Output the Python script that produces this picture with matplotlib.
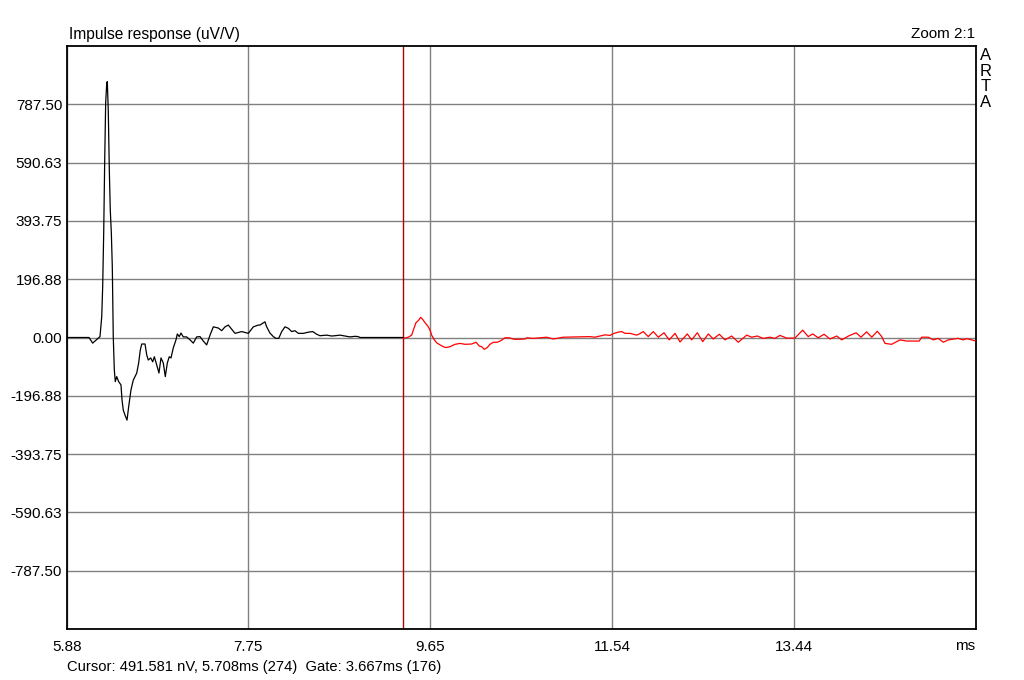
import matplotlib
matplotlib.use("Agg")
import matplotlib.pyplot as plt

plt.rcParams['font.family'] = ['Liberation Sans', 'DejaVu Sans']

# ---- data (time in ms, response in uV/V) ----
black_t = [5.880, 6.109, 6.147, 6.223, 6.241, 6.251, 6.262, 6.272, 6.282, 6.293, 6.299,
           6.309, 6.320, 6.330, 6.341, 6.351, 6.361, 6.372, 6.382, 6.397, 6.417, 6.441,
           6.452, 6.465, 6.483, 6.504, 6.521, 6.545, 6.569, 6.605, 6.625, 6.642, 6.657,
           6.691, 6.709, 6.725, 6.750, 6.771, 6.788, 6.813, 6.836, 6.857, 6.881, 6.902,
           6.923, 6.943, 6.961, 6.985, 7.013, 7.027, 7.047, 7.065, 7.089, 7.124, 7.159,
           7.193, 7.228, 7.263, 7.297, 7.332, 7.367, 7.401, 7.453, 7.488, 7.523, 7.557,
           7.592, 7.627, 7.696, 7.765, 7.817, 7.869, 7.886, 7.938, 7.956, 7.990, 8.025,
           8.053, 8.081, 8.112, 8.146, 8.181, 8.216, 8.250, 8.285, 8.337, 8.389, 8.434,
           8.476, 8.510, 8.580, 8.632, 8.666, 8.718, 8.770, 8.822, 8.874, 8.908, 8.926,
           9.376]
black_v = [0, 0, -19, 3, 70, 172, 363, 599, 792, 859, 864,
           767, 565, 430, 353, 238, 2, -110, -149, -132, -149, -160,
           -211, -245, -262, -279, -234, -177, -144, -120, -86, -42, -22,
           -22, -59, -76, -69, -82, -65, -93, -120, -69, -86, -132,
           -86, -65, -69, -35, -8, 12, 3, 15, 2, 2, -8,
           -19, 2, 3, -12, -25, 8, 36, 32, 23, 36, 42,
           28, 14, 20, 14, 36, 42, 42, 53, 36, 15, 3,
           -3, -3, 20, 36, 31, 20, 23, 14, 14, 18, 20,
           11, 6, 8, 5, 6, 8, 5, 2, 4, 3, 0,
           0]

red_t = [9.376, 9.428, 9.463, 9.487, 9.508, 9.532, 9.557, 9.578, 9.602, 9.630, 9.654,
         9.671, 9.695, 9.723, 9.758, 9.792, 9.820, 9.862, 9.914, 9.966, 10.018, 10.087,
         10.132, 10.167, 10.191, 10.218, 10.249, 10.277, 10.312, 10.353, 10.389, 10.433,
         10.478, 10.527, 10.589, 10.641, 10.659, 10.728, 10.867, 10.936, 10.988, 11.040,
         11.317, 11.369, 11.421, 11.473, 11.525, 11.567, 11.611, 11.647, 11.681, 11.733,
         11.767, 11.802, 11.830, 11.871, 11.923, 11.975, 12.027, 12.086, 12.141, 12.201,
         12.253, 12.287, 12.329, 12.374, 12.433, 12.489, 12.547, 12.599, 12.661, 12.721,
         12.790, 12.859, 12.946, 12.998, 13.056, 13.119, 13.188, 13.240, 13.292, 13.362,
         13.448, 13.528, 13.586, 13.632, 13.690, 13.750, 13.812, 13.882, 13.934, 14.004,
         14.084, 14.134, 14.193, 14.246, 14.304, 14.350, 14.384, 14.453, 14.540, 14.609,
         14.740, 14.765, 14.834, 14.886, 14.938, 14.990, 15.042, 15.144, 15.196, 15.232,
         15.284, 15.319]
red_v = [-3, 1, 8, 31, 50, 57, 68, 61, 50, 39, 25,
         8, -6, -18, -25, -31, -34, -31, -23, -20, -23, -22,
         -16, -29, -31, -40, -34, -23, -16, -16, -11, -1,
         -1, -6, -6, -5, -1, -3, 1, -5, -2, 1,
         3, 1, 5, 9, 7, 14, 18, 20, 14, 14,
         11, 8, 12, 20, 3, 20, 1, 16, -8, 14,
         -15, -3, 12, -8, 16, -14, 12, -5, 11, -8,
         5, -16, 8, 1, 5, -3, 1, -3, 7, -2,
         -2, 25, 3, 12, -1, 11, -5, 5, -8, 5,
         16, 1, 19, 1, 21, 3, -20, -23, -8, -12,
         -12, 1, 1, -8, -3, -16, -8, -3, -8, -4,
         -8, -11]

gate_t = 9.376
x_min, x_max = 5.88, 15.33
y_lim = 984.375

x_tick_pos = [5.88, 7.762, 9.654, 11.546, 13.438]
x_tick_labels = ["5.88", "7.75", "9.65", "11.54", "13.44"]
y_tick_pos = [787.5, 590.625, 393.75, 196.875, 0.0, -196.875, -393.75, -590.625, -787.5]
y_tick_labels = ["787.50", "590.63", "393.75", "196.88", "0.00",
                 "-196.88", "-393.75", "-590.63", "-787.50"]

FS = 11

fig = plt.figure(figsize=(10.24, 6.8), dpi=100)
ax = fig.add_axes([67/1024, 51/680, 909/1024, 583/680])

ax.set_xlim(x_min, x_max)
ax.set_ylim(-y_lim, y_lim)

ax.set_xticks(x_tick_pos)
ax.set_xticklabels(x_tick_labels)
ax.set_yticks(y_tick_pos)
ax.set_yticklabels(y_tick_labels)
ax.tick_params(length=0, labelsize=FS, colors='black')
ax.tick_params(axis='y', pad=3.5)
ax.tick_params(axis='x', pad=8)
ax.grid(True, color='#808080', linewidth=1.0)
ax.set_axisbelow(True)
for s in ax.spines.values():
    s.set_linewidth(1.3)
    s.set_color('black')

ax.axvline(gate_t, color='#b00000', linewidth=1.0, zorder=2)
ax.plot(black_t, black_v, color='black', linewidth=0.9, zorder=3)
ax.plot(red_t, red_v, color='#ff0000', linewidth=0.9, zorder=3)

fig.text(69/1024, 1 - 34/680, "Impulse response (uV/V)", fontsize=11.2,
         ha='left', va='center')
fig.text(975/1024, 1 - 34/680, "Zoom 2:1", fontsize=FS, ha='right', va='center')
fig.text(986/1024, 1 - 79/680, "A\nR\nT\nA", fontsize=12, ha='center', va='center',
         linespacing=1.07)
fig.text(975/1024, 1 - 646/680, "ms", fontsize=FS, ha='right', va='center')
fig.text(67/1024, 1 - 667/680, "Cursor: 491.581 nV, 5.708ms (274)  Gate: 3.667ms (176)",
         fontsize=10.6, ha='left', va='center')

fig.savefig("out.png", dpi=100)
